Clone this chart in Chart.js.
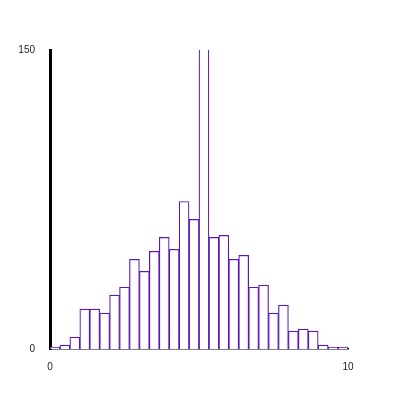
<!DOCTYPE html>
<html>
<head>
<meta charset="utf-8">
<script src="https://cdn.jsdelivr.net/npm/chart.js@4/dist/chart.umd.min.js"></script>
<style>
html,body{margin:0;padding:0;background:#fff;}
#wrap{width:400px;height:400px;}
</style>
</head>
<body>
<div id="wrap"><canvas id="c" width="400" height="400"></canvas></div>
<script>
// Histogram bins: 30 bins of width 1/3 over [0, 10]
const binStarts = [0, 1/3, 2/3, 1, 4/3, 5/3, 2, 7/3, 8/3, 3, 10/3, 11/3, 4, 13/3, 14/3,
                   5, 16/3, 17/3, 6, 19/3, 20/3, 7, 22/3, 23/3, 8, 25/3, 26/3, 9, 28/3, 29/3];
const binWidth = 1/3;
const counts = [1, 2, 6, 20, 20, 18, 27, 31, 45, 39, 49, 56, 50, 74, 65,
                210, 56, 57, 45, 47, 31, 32, 18, 22, 9, 10, 9, 2, 1, 1];
const xTicks = [0, 10];
const yTicks = [0, 150];

const data = binStarts.map((s, i) => ({x: s + binWidth / 2, y: counts[i]}));

new Chart(document.getElementById('c'), {
  type: 'bar',
  data: {
    datasets: [{
      data: data,
      backgroundColor: '#ffffff',
      borderColor: '#5c18b4',
      borderWidth: 1.2,
      barPercentage: 1.0,
      categoryPercentage: 1.0,
      borderSkipped: 'bottom'
    }]
  },
  options: {
    responsive: false,
    animation: false,
    events: [],
    layout: {padding: {left: 0, top: 50, right: 52, bottom: 0}},
    plugins: {legend: {display: false}, tooltip: {enabled: false}},
    scales: {
      x: {
        type: 'linear',
        min: 0, max: 10,
        offset: false,
        z: 1,
        afterBuildTicks: s => { s.ticks = xTicks.map(v => ({value: v})); },
        afterFit: s => { s.height = 51; },
        grid: {display: false, drawTicks: false},
        border: {display: true, color: '#000', width: 1.5},
        ticks: {
          padding: 12,
          maxRotation: 0,
          autoSkip: false,
          color: '#222',
          font: {family: 'Liberation Sans', size: 10}
        }
      },
      y: {
        min: 0, max: 150,
        z: 1,
        afterBuildTicks: s => { s.ticks = yTicks.map(v => ({value: v})); },
        afterFit: s => { s.width = 50; },
        grid: {display: false, drawTicks: false},
        border: {display: true, color: '#000', width: 3},
        ticks: {
          padding: 15,
          color: '#222',
          font: {family: 'Liberation Sans', size: 10}
        }
      }
    }
  }
});
</script>
</body>
</html>
